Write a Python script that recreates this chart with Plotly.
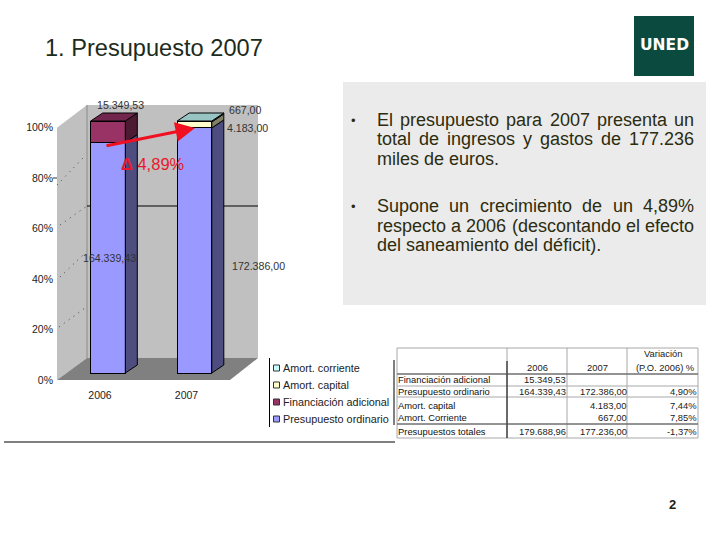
import plotly.graph_objects as go

# ---------- data ----------
years = ["2006", "2007"]
ordinario = [164339.43, 172386.00]
adicional = [15349.53, 0]
capital = [0, 4183.00]
corriente = [0, 667.00]
series_names = ["Presupuesto ordinario", "Financiación adicional", "Amort. capital", "Amort. corriente"]
series_values = [ordinario, adicional, capital, corriente]
front_colors = ["#9999FF", "#993366", "#FFFFCC", "#CCFFFF"]
side_colors = ["#4D4D80", "#4D1A33", "#808066", "#668080"]
top_colors = ["#7A7ACC", "#73264D", "#CCCCA3", "#99C4C4"]
pct_ticks = [0, 20, 40, 60, 80, 100]

data_labels = [("15.349,53", 120, 105), ("667,00", 245, 110), ("4.183,00", 247, 128),
               ("164.339,43", 109, 258), ("172.386,00", 258, 266)]
bullets = [
    [("El presupuesto para 2007 presenta un", True), ("total de ingresos y gastos de 177.236", True), ("miles de euros.", False)],
    [("Supone un crecimiento de un 4,89%", True), ("respecto a 2006 (descontando el efecto", True), ("del saneamiento del déficit).", False)],
]
table_header = ["", "2006", "2007", "Variación\n(P.O. 2006) %"]
table_rows = [
    ["Financiación adicional", "15.349,53", "", ""],
    ["Presupuesto ordinario", "164.339,43", "172.386,00", "4,90%"],
    ["Amort. capital", "", "4.183,00", "7,44%"],
    ["Amort. Corriente", "", "667,00", "7,85%"],
    ["Presupuestos totales", "179.688,96", "177.236,00", "-1,37%"],
]

# ---------- pixel helpers ----------
L, R, T, B = 57, 262, 100, 385
X0, XS = 108, 86.5            # pixel of first category, pixels per category
BAR0, BARS = 373, 2.52        # pixel of 0 %, pixels per % for the bars
AX0, AXS = 380, 2.523         # pixel of 0 %, pixels per % for the axis
def px(x): return (x - L) / (R - L)
def py(y): return (B - y) / (B - T)

shapes, ann = [], []
def poly(pts, fill, line=None, w=1):
    d = "M " + " L ".join(f"{px(a):.4f},{py(b):.4f}" for a, b in pts) + " Z"
    shapes.append(dict(type="path", path=d, xref="paper", yref="paper", fillcolor=fill,
                       line=dict(color=line or "rgba(0,0,0,0)", width=w if line else 0), layer="below"))
def rect(x0, y0, x1, y1, fill):
    shapes.append(dict(type="rect", xref="paper", yref="paper", x0=px(x0), x1=px(x1), y0=py(y0), y1=py(y1),
                       fillcolor=fill, line=dict(width=0), layer="below"))
def line(x0, y0, x1, y1, color="#000", w=1, dash="solid", layer="below"):
    shapes.append(dict(type="line", xref="paper", yref="paper", x0=px(x0), x1=px(x1), y0=py(y0), y1=py(y1),
                       line=dict(color=color, width=w, dash=dash), layer=layer))
def text(s, x, y, size=10, color="#222", anchor="center", font="Liberation Sans", bold=False):
    if bold:
        s = f"<b>{s}</b>"
    ann.append(dict(text=s, x=px(x), y=py(y), xref="paper", yref="paper", showarrow=False, xanchor=anchor,
                    yanchor="middle", font=dict(size=size, color=color, family=font),
                    borderpad=0, borderwidth=0, align=anchor if anchor != "center" else "center"))

# Arial / Liberation Sans advance widths
W = dict(zip("abcdefghijklmnopqrstuvwxyz", [556,556,500,556,556,278,556,556,222,222,500,222,833,556,556,556,556,333,500,278,556,500,722,500,500,500]))
W.update({c: 556 for c in "0123456789é"}); W.update({".": 278, ",": 278, "(": 333, ")": 333, "%": 889, "E": 667, "S": 667})
def width(s, size): return sum(W.get(c, 556) for c in s) * size / 1000

BODY = "#2C2C10"
def text_line(s, x0, x1, y, size, just):
    if not just:
        text(s, x0, y, size, BODY, "left"); return
    words = s.split(" ")
    gap = (x1 - x0 - sum(width(w, size) for w in words)) / (len(words) - 1)
    x = x0
    for w in words:
        text(w, x, y, size, BODY, "left")
        x += width(w, size) + gap

# ---------- page furniture ----------
rect(343, 82, 706, 305, "#EBEBEB")
rect(634, 16, 694, 76, "#0B4A3F")
text("UNED", 664, 45, 15.5, "#FFFFFF", font="DejaVu Sans", bold=True)
text("1. Presupuesto 2007", 45, 48, 23.6, "#1C2B1C", "left")
text("2", 672.5, 504, 13, "#222210", bold=True)
line(4, 442, 395, 442, "#000", 1)

# ---------- 3-D box ----------
poly([(57, 127.7), (87, 105), (87, 358), (57, 380)], "#C0C0C0")
rect(87, 105, 258, 358, "#C0C0C0")
poly([(57, 380), (87, 358), (258, 358), (230, 380)], "#808080")
line(87, 105, 87, 358, "#8A8A8A", 1)
line(87, 206, 258, 206, "#000", 1)
for a, b in [((59, 327), (85, 308)), ((60, 277), (83, 255)), ((60, 225), (87, 206)), ((57, 185), (83, 158))]:
    line(a[0], a[1], b[0], b[1], "#444", 1, "1px,5px")
line(53, 178, 57, 178, "#333", 1)

# ---------- traces ----------
xpos = list(range(len(years)))
BW = 0.4
DX, DY = 12 / XS, 8 / BARS
fig = go.Figure()
for name, vals, col in zip(series_names, series_values, front_colors):
    fig.add_trace(go.Bar(x=xpos, y=vals, name=name, width=BW, marker=dict(color=col, line=dict(color="#000", width=1)),
                         showlegend=False, hoverinfo="skip"))
totals = [sum(v[i] for v in series_values) for i in xpos]
for i in xpos:
    cum = 0
    r = i + BW / 2
    for vals, sc, tc in zip(series_values, side_colors, top_colors):
        if vals[i] == 0:
            continue
        lo = cum / totals[i] * 100
        cum += vals[i]
        hi = cum / totals[i] * 100
        fig.add_trace(go.Scatter(x=[r, r + DX, r + DX, r, r], y=[lo, lo + DY, hi + DY, hi, lo], mode="lines", fill="toself",
                                 fillcolor=sc, line=dict(color="#000", width=1), showlegend=False, hoverinfo="skip"))
        if hi > 99.9:
            l = i - BW / 2
            fig.add_trace(go.Scatter(x=[l, l + DX, r + DX, r, l], y=[hi, hi + DY, hi + DY, hi, hi], mode="lines", fill="toself",
                                     fillcolor=tc, line=dict(color="#000", width=1), showlegend=False, hoverinfo="skip"))
fig.add_trace(go.Scatter(x=[0], y=[0], yaxis="y2", mode="markers", marker=dict(opacity=0), showlegend=False, hoverinfo="skip"))

# ---------- labels ----------
for s, x, y in data_labels:
    text(s, x, y, 10.6, "#333")

# legend
legend_y = [368, 385, 402, 419]
for nm, col, y in zip(series_names[::-1], front_colors[::-1], legend_y):
    shapes.append(dict(type="rect", xref="paper", yref="paper", x0=px(273.5), x1=px(279.5), y0=py(y - 3), y1=py(y + 3),
                       fillcolor=col, line=dict(color="#333", width=1), layer="below"))
    text(nm, 283, y, 10.8, "#222", "left")
line(269.5, 358, 269.5, 427, "#000", 1)

# bullets
for para, ys, by in zip(bullets, [[120, 139, 159], [206, 226, 245]], [120, 206]):
    text("•", 353, by, 13, BODY)
    for (s, j), y in zip(para, ys):
        text_line(s, 377, 694, y, 18, j)

# table
cols = [397, 507, 567, 627, 698]
rows = [348, 374, 386, 397, 424, 438]
for c in cols:
    line(c, 348, c, 438, "#A8A8A8", 1)
for r in rows:
    line(397, r, 698, r, "#A8A8A8", 1)
line(507, 361, 507, 438, "#000", 1)
line(394, 360, 394, 425, "#000", 1)
line(397, 374, 698, 374, "#555", 1)
line(397, 424, 698, 424, "#555", 1)
TS = 9.4
text(table_header[1], 537, 367.5, TS, "#222", "center")
text(table_header[2], 597, 367.5, TS, "#222", "center")
h1, h2 = table_header[3].split("\n")
text(h1, 663, 353.5, TS, "#222", "center")
text(h2, 665, 367.5, TS, "#222", "center")
for row, y in zip(table_rows, [379.5, 391.5, 405, 417.5, 431]):
    text(row[0], 398, y, TS, "#111", "left")
    for c, s in zip([566, 627, 697], row[1:]):
        if s:
            text(s, c, y, TS, "#222", "right")

# arrow and delta
ann.append(dict(x=px(195), y=py(128), ax=-90, ay=18, xref="paper", yref="paper", axref="pixel", ayref="pixel",
                text="", showarrow=True, arrowhead=2, arrowsize=1.3, arrowwidth=3, arrowcolor="#F01020"))
text("<b>Δ</b> 4,89%", 152.5, 164, 16.5, "#E8182C")

fig.update_layout(
    width=720, height=540, autosize=False, barmode="stack", barnorm="percent", showlegend=False,
    margin=dict(l=L, r=720 - R, t=T, b=540 - B, pad=0), paper_bgcolor="#FFFFFF", plot_bgcolor="rgba(0,0,0,0)",
    font=dict(family="Liberation Sans", color="#222"),
    xaxis=dict(range=[(L - X0) / XS, (R - X0) / XS], tickmode="array", tickvals=[p - 8 / XS for p in xpos], ticktext=years, anchor="y2",
               showgrid=False, zeroline=False, showline=False, ticks="", tickfont=dict(size=10.5), ticklabelstandoff=2),
    yaxis=dict(range=[(BAR0 - B) / BARS, (BAR0 - T) / BARS], visible=False, showgrid=False, zeroline=False),
    yaxis2=dict(range=[(AX0 - B) / AXS, (AX0 - T) / AXS], overlaying="y", anchor="x", side="left", tickmode="array",
                tickvals=pct_ticks, ticktext=[f"{v}%" for v in pct_ticks], showgrid=False, zeroline=False, showline=False,
                ticks="", tickfont=dict(size=10.5), ticklabelstandoff=3),
    shapes=shapes, annotations=ann,
)
fig.write_html("out.html", post_script="document.body.style.margin='0';", config={"displayModeBar": False})
